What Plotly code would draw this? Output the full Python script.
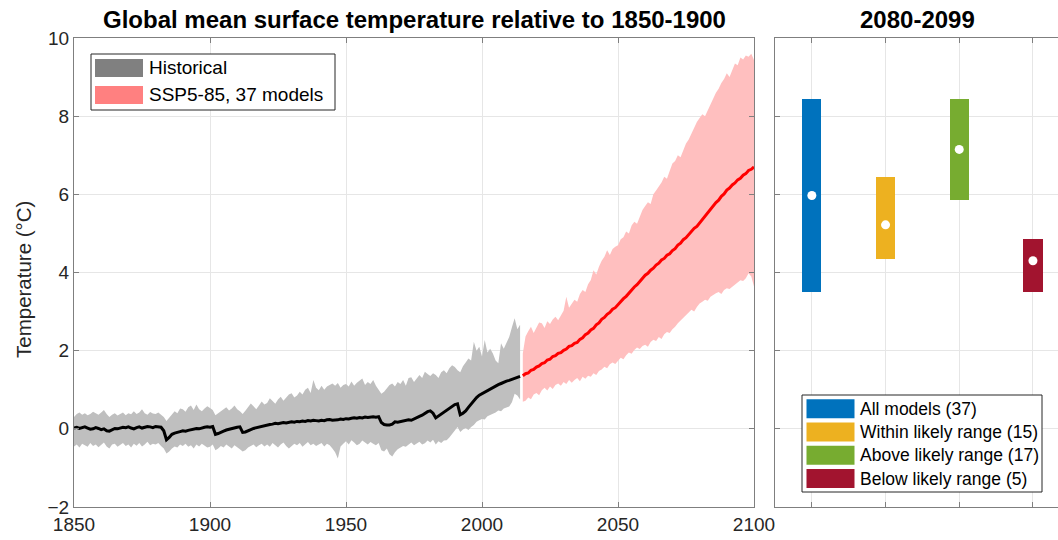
import plotly.graph_objects as go

# ---------------- data ----------------
hist_years = list(range(1850, 2015))
hist_mean = [
    0.02, 0.04, 0.01, 0.03, 0.05, 0.02, -0.01, 0.00, 0.03, 0.01,
    -0.02, 0.00, -0.05, -0.06, -0.02, 0.01, 0.00, 0.02, 0.04, 0.03,
    0.05, 0.02, 0.00, 0.03, 0.05, 0.02, 0.04, 0.06, 0.05, 0.03,
    0.06, 0.05, 0.04, -0.05, -0.28, -0.22, -0.14, -0.11, -0.08, -0.07,
    -0.05, -0.06, -0.04, -0.02, -0.01, 0.01, 0.00, 0.03, 0.04, 0.05,
    0.04, 0.06, -0.14, -0.12, -0.08, -0.06, -0.03, -0.01, 0.01, 0.03,
    0.04, 0.05, -0.09, -0.08, -0.04, -0.02, 0.01, 0.03, 0.05, 0.06,
    0.08, 0.10, 0.11, 0.12, 0.14, 0.13, 0.15, 0.16, 0.15, 0.17,
    0.18, 0.17, 0.19, 0.18, 0.20, 0.19, 0.21, 0.20, 0.22, 0.21,
    0.20, 0.22, 0.21, 0.23, 0.24, 0.22, 0.22, 0.23, 0.25, 0.24,
    0.26, 0.25, 0.27, 0.28, 0.27, 0.29, 0.28, 0.30, 0.29, 0.30,
    0.31, 0.30, 0.31, 0.16, 0.11, 0.10, 0.10, 0.12, 0.18, 0.17,
    0.19, 0.20, 0.22, 0.23, 0.22, 0.26, 0.28, 0.32, 0.35, 0.40,
    0.44, 0.46, 0.40, 0.28, 0.33, 0.38, 0.42, 0.47, 0.52, 0.58,
    0.62, 0.64, 0.36, 0.40, 0.46, 0.55, 0.64, 0.72, 0.80, 0.86,
    0.90, 0.94, 0.98, 1.03, 1.07, 1.10, 1.13, 1.16, 1.20, 1.22,
    1.24, 1.27, 1.29, 1.32, 1.34,
]
hist_upper = [
    0.30, 0.38, 0.42, 0.36, 0.40, 0.35, 0.38, 0.44, 0.40, 0.36,
    0.42, 0.48, 0.38, 0.30, 0.36, 0.40, 0.34, 0.38, 0.42, 0.35,
    0.40, 0.37, 0.45, 0.38, 0.42, 0.50, 0.40, 0.36, 0.43, 0.39,
    0.38, 0.42, 0.35, 0.30, 0.20, 0.28, 0.36, 0.45, 0.40, 0.52,
    0.50, 0.44, 0.55, 0.60, 0.48, 0.62, 0.50, 0.45, 0.52, 0.58,
    0.53, 0.48, 0.35, 0.40, 0.46, 0.50, 0.55, 0.47, 0.52, 0.60,
    0.50, 0.45, 0.38, 0.46, 0.55, 0.65, 0.58, 0.50, 0.60, 0.70,
    0.62, 0.66, 0.78, 0.70, 0.64, 0.75, 0.82, 0.72, 0.80, 0.88,
    0.91, 0.80, 0.85, 0.95, 0.88, 1.00, 1.05, 0.92, 1.25, 1.05,
    0.99, 1.10, 1.00, 1.08, 1.12, 1.16, 1.10, 1.17, 1.05, 1.12,
    1.15, 1.08, 1.21, 1.10, 1.18, 1.24, 1.29, 1.12, 1.20, 1.15,
    1.25, 1.10, 0.99, 0.90, 0.95, 1.05, 1.12, 1.16, 1.08, 1.20,
    1.15, 1.25, 1.10, 1.30, 1.32, 1.20, 1.28, 1.38, 1.30, 1.46,
    1.40, 1.35, 1.42, 1.38, 1.30, 1.45, 1.50, 1.42, 1.55, 1.63,
    1.58, 1.50, 1.45, 1.60, 1.70, 1.80, 1.75, 2.23, 2.00, 2.10,
    1.85, 2.27, 1.95, 2.05, 1.93, 1.75, 1.68, 2.19, 2.05, 2.20,
    2.35, 2.60, 2.83, 2.55, 2.66,
]
hist_lower = [
    -0.45, -0.40, -0.48, -0.38, -0.42, -0.46, -0.36, -0.44, -0.40, -0.47,
    -0.42, -0.35, -0.45, -0.50, -0.40, -0.38, -0.46, -0.42, -0.36, -0.44,
    -0.40, -0.48, -0.38, -0.43, -0.36, -0.45, -0.40, -0.33, -0.42, -0.38,
    -0.40, -0.36, -0.44, -0.50, -0.63, -0.58, -0.50, -0.45, -0.48, -0.40,
    -0.44, -0.38, -0.46, -0.42, -0.50, -0.40, -0.45, -0.38, -0.42, -0.48,
    -0.46, -0.40, -0.55, -0.50, -0.44, -0.48, -0.40, -0.45, -0.50, -0.42,
    -0.46, -0.52, -0.58, -0.55, -0.48, -0.44, -0.40, -0.47, -0.42, -0.38,
    -0.45, -0.40, -0.46, -0.36, -0.42, -0.48, -0.40, -0.35, -0.44, -0.50,
    -0.45, -0.38, -0.42, -0.36, -0.46, -0.40, -0.34, -0.42, -0.38, -0.44,
    -0.40, -0.36, -0.45, -0.38, -0.42, -0.50, -0.60, -0.76, -0.45, -0.38,
    -0.32, -0.40, -0.29, -0.35, -0.42, -0.38, -0.30, -0.36, -0.40, -0.34,
    -0.38, -0.42, -0.36, -0.55, -0.58, -0.50, -0.65, -0.71, -0.60, -0.52,
    -0.48, -0.44, -0.46, -0.40, -0.35, -0.42, -0.38, -0.33, -0.40, -0.37,
    -0.30, -0.35, -0.28, -0.40, -0.32, -0.36, -0.30, -0.29, -0.22, -0.15,
    -0.05, 0.05, -0.08, -0.02, 0.02, -0.03, 0.05, 0.10, 0.18, 0.22,
    0.25, 0.24, 0.32, 0.36, 0.38, 0.42, 0.47, 0.45, 0.52, 0.55,
    0.57, 0.68, 0.90, 0.85, 0.75,
]

ssp_years = list(range(2015, 2101))
ssp_mean = [
    1.36, 1.41, 1.43, 1.50, 1.52, 1.58, 1.61, 1.67, 1.69, 1.76,
    1.78, 1.85, 1.87, 1.93, 1.95, 2.01, 2.04, 2.11, 2.13, 2.19,
    2.21, 2.29, 2.33, 2.41, 2.45, 2.53, 2.57, 2.66, 2.71, 2.80,
    2.85, 2.93, 2.98, 3.06, 3.10, 3.18, 3.24, 3.33, 3.39, 3.48,
    3.54, 3.63, 3.69, 3.78, 3.84, 3.93, 3.98, 4.06, 4.11, 4.19,
    4.24, 4.32, 4.36, 4.44, 4.48, 4.56, 4.61, 4.70, 4.75, 4.84,
    4.89, 4.98, 5.04, 5.13, 5.18, 5.27, 5.34, 5.45, 5.52, 5.62,
    5.69, 5.79, 5.85, 5.95, 6.01, 6.11, 6.16, 6.24, 6.29, 6.37,
    6.41, 6.49, 6.53, 6.61, 6.64, 6.70,
]
ssp_upper = [
    1.93, 2.36, 2.50, 2.61, 2.45, 2.60, 2.72, 2.70, 2.58, 2.75,
    2.68, 2.80, 2.87, 2.78, 2.90, 3.02, 3.38, 3.10, 3.20, 3.30,
    3.25, 3.45, 3.55, 3.50, 3.70, 3.81, 4.06, 3.95, 4.15, 4.30,
    4.40, 4.57, 4.45, 4.60, 4.66, 4.70, 4.85, 4.90, 5.05, 5.00,
    5.20, 5.30, 5.25, 5.43, 5.60, 5.70, 5.80, 5.75, 6.00, 6.10,
    6.20, 6.30, 6.45, 6.40, 6.60, 6.79, 6.85, 7.00, 6.95, 7.15,
    7.30, 7.40, 7.55, 7.70, 7.85, 7.95, 8.05, 8.00, 8.16, 8.30,
    8.45, 8.60, 8.70, 8.85, 8.95, 9.10, 9.00, 9.20, 9.35, 9.30,
    9.50, 9.45, 9.55, 9.52, 9.60, 9.44,
]
ssp_lower = [
    0.69, 0.72, 0.80, 0.76, 0.88, 0.92, 0.86, 0.99, 1.05, 0.98,
    1.08, 1.02, 1.12, 1.16, 1.10, 1.20, 1.15, 1.25, 1.18, 1.25,
    1.30, 1.22, 1.33, 1.28, 1.36, 1.33, 1.42, 1.38, 1.48, 1.52,
    1.59, 1.55, 1.65, 1.70, 1.66, 1.75, 1.82, 1.78, 1.88, 1.95,
    1.92, 2.02, 2.08, 2.04, 2.12, 2.15, 2.10, 2.22, 2.28, 2.25,
    2.35, 2.30, 2.42, 2.48, 2.45, 2.55, 2.61, 2.70, 2.78, 2.85,
    2.90, 2.98, 3.05, 3.00, 3.12, 3.21, 3.25, 3.30, 3.28, 3.38,
    3.42, 3.47, 3.50, 3.45, 3.55, 3.60, 3.58, 3.64, 3.70, 3.75,
    3.80, 3.78, 3.85, 3.98, 3.90, 3.64,
]

group_labels = ["All models (37)", "Within likely range (15)",
                "Above likely range (17)", "Below likely range (5)"]
group_pos = [1, 2, 3, 4]
group_low = [3.50, 4.35, 5.86, 3.50]
group_high = [8.43, 6.45, 8.43, 4.86]
group_median = [5.97, 5.22, 7.15, 4.30]
group_colors = ["#0072BD", "#EDB120", "#77AC30", "#A2142F"]

legend_left_labels = ["Historical", "SSP5-85, 37 models"]
legend_left_colors = ["#808080", "#FF8080"]

x_ticks = [1850, 1900, 1950, 2000, 2050, 2100]
y_ticks = [-2, 0, 2, 4, 6, 8, 10]

# ---------------- layout geometry (page pixels) ----------------
W, H = 1058, 540
ML, MT, MR = 74, 38, 0
MB = H - 507
PW, PH = W - ML - MR, H - MT - MB


def px(x_page):
    return (x_page - ML) / PW


def py(y_page):
    return (H - MB - y_page) / PH


FONT = "Liberation Sans, Arial, Helvetica, sans-serif"
AX = "#262626"
GRID = "#E6E6E6"
LINEC = "#7F7F7F"

fig = go.Figure()

fig.add_trace(go.Scatter(
    x=hist_years + hist_years[::-1], y=hist_upper + hist_lower[::-1],
    fill="toself", fillcolor="#BFBFBF", line=dict(width=0),
    mode="lines", hoverinfo="skip", showlegend=False, xaxis="x", yaxis="y"))
fig.add_trace(go.Scatter(
    x=ssp_years + ssp_years[::-1], y=ssp_upper + ssp_lower[::-1],
    fill="toself", fillcolor="#FFBFBF", line=dict(width=0),
    mode="lines", hoverinfo="skip", showlegend=False, xaxis="x", yaxis="y"))
fig.add_trace(go.Scatter(x=hist_years, y=hist_mean, mode="lines",
                         line=dict(color="#000000", width=3),
                         showlegend=False, xaxis="x", yaxis="y"))
fig.add_trace(go.Scatter(x=ssp_years, y=ssp_mean, mode="lines",
                         line=dict(color="#FF0000", width=3),
                         showlegend=False, xaxis="x", yaxis="y"))

fig.add_trace(go.Bar(
    x=group_pos, y=[h - l for h, l in zip(group_high, group_low)],
    base=group_low, width=0.26, marker=dict(color=group_colors, line=dict(width=0)),
    showlegend=False, xaxis="x2", yaxis="y2"))
fig.add_trace(go.Scatter(
    x=group_pos, y=group_median, mode="markers",
    marker=dict(color="white", size=9, line=dict(width=0)),
    showlegend=False, xaxis="x2", yaxis="y2"))

axis_common = dict(showline=True, linecolor=LINEC, linewidth=1,
                   ticks="inside", ticklen=5, tickcolor=LINEC, tickwidth=1,
                   showgrid=True, gridcolor=GRID, gridwidth=1, zeroline=False,
                   automargin=False,
                   tickfont=dict(family=FONT, size=19, color=AX))

fig.update_layout(
    template="none",
    width=W, height=H, autosize=False,
    margin=dict(l=ML, r=MR, t=MT, b=MB, pad=0, autoexpand=False),
    paper_bgcolor="white", plot_bgcolor="white",
    bargap=0, hovermode=False,
    xaxis=dict(domain=[0, px(754)], range=[1850, 2100], tickvals=x_ticks,
               mirror="ticks", anchor="y", **axis_common),
    yaxis=dict(domain=[0, 1], range=[-2, 10], tickvals=y_ticks,
               mirror="ticks", anchor="x", **axis_common),
    xaxis2=dict(domain=[px(775), 1], range=[0.5, 4.34], tickvals=group_pos,
                showticklabels=False, mirror="ticks", anchor="y2", **axis_common),
    yaxis2=dict(domain=[0, 1], range=[-2, 10], tickvals=y_ticks,
                showticklabels=False, mirror=False, anchor="x2", **axis_common),
)

shapes = []
annotations = []

annotations.append(dict(text="<b>Global mean surface temperature relative to 1850-1900</b>",
                        x=px(414), y=py(20), xref="paper", yref="paper",
                        showarrow=False, xanchor="center", yanchor="middle",
                        font=dict(family=FONT, size=24, color="#000000")))
annotations.append(dict(text="<b>2080-2099</b>",
                        x=px(917), y=py(20), xref="paper", yref="paper",
                        showarrow=False, xanchor="center", yanchor="middle",
                        font=dict(family=FONT, size=24, color="#000000")))
annotations.append(dict(text="Temperature (°C)", textangle=-90,
                        x=px(23), y=py(280), xref="paper", yref="paper",
                        showarrow=False, xanchor="center", yanchor="middle",
                        font=dict(family=FONT, size=20.5, color=AX)))

shapes.append(dict(type="rect", xref="paper", yref="paper",
                   x0=px(91), x1=px(335), y0=py(110), y1=py(54),
                   line=dict(color=AX, width=1), fillcolor="white", layer="above"))
row_c = [68, 95]
for lab, col, yc in zip(legend_left_labels, legend_left_colors, row_c):
    shapes.append(dict(type="rect", xref="paper", yref="paper",
                       x0=px(95), x1=px(143), y0=py(yc + 9), y1=py(yc - 9),
                       line=dict(width=0), fillcolor=col, layer="above"))
    annotations.append(dict(text=lab, x=px(147), y=py(yc), xref="paper", yref="paper",
                            showarrow=False, xanchor="left", yanchor="middle",
                            font=dict(family=FONT, size=19, color="#000000")))

shapes.append(dict(type="rect", xref="paper", yref="paper",
                   x0=px(802), x1=px(1042), y0=py(492), y1=py(395),
                   line=dict(color=AX, width=1), fillcolor="white", layer="above"))
row_c2 = [408.7, 432.0, 455.3, 478.5]
for lab, col, yc in zip(group_labels, group_colors, row_c2):
    shapes.append(dict(type="rect", xref="paper", yref="paper",
                       x0=px(806.5), x1=px(854.5), y0=py(yc + 9.5), y1=py(yc - 9.5),
                       line=dict(width=0), fillcolor=col, layer="above"))
    annotations.append(dict(text=lab, x=px(858), y=py(yc), xref="paper", yref="paper",
                            showarrow=False, xanchor="left", yanchor="middle",
                            font=dict(family=FONT, size=17.5, color="#000000")))

fig.update_layout(shapes=shapes, annotations=annotations)

fig.write_html(
    "out.html",
    config={"responsive": False, "displayModeBar": False},
    post_script="document.body.style.margin='0px';document.body.style.overflow='hidden';",
)
